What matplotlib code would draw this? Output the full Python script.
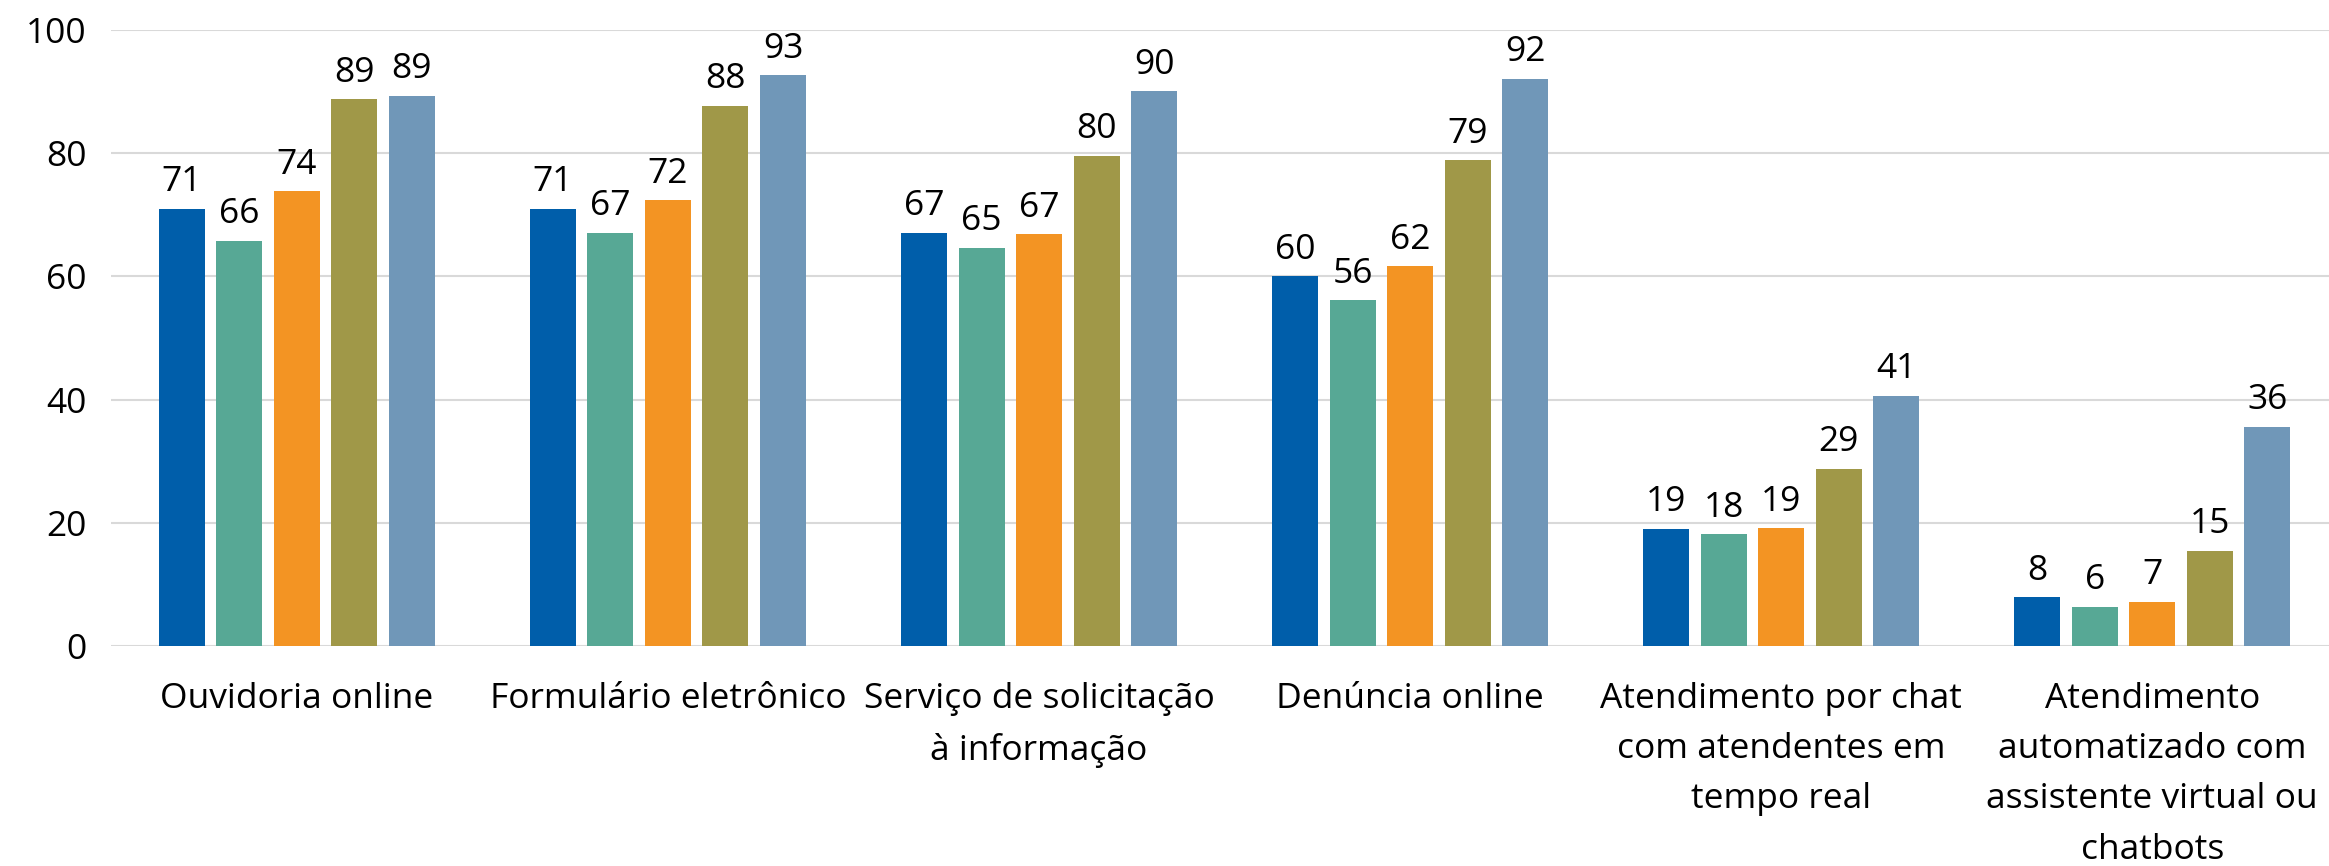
import matplotlib.pyplot as plt
import numpy as np

# Categories and series values (percent)
categories = [
    "Ouvidoria online",
    "Formulário eletrônico",
    "Serviço de solicitação\nà informação",
    "Denúncia online",
    "Atendimento por chat\ncom atendentes em\ntempo real",
    "Atendimento\nautomatizado com\nassistente virtual ou\nchatbots",
]
serie_1 = [71.0, 71.0, 67.0, 60.0, 19.0, 7.9]
serie_2 = [65.8, 67.0, 64.6, 56.1, 18.1, 6.3]
serie_3 = [73.8, 72.3, 66.8, 61.6, 19.1, 7.2]
serie_4 = [88.7, 87.6, 79.5, 78.8, 28.7, 15.4]
serie_5 = [89.3, 92.6, 90.0, 92.0, 40.6, 35.6]
y_ticks = [0, 20, 40, 60, 80, 100]

series = [serie_1, serie_2, serie_3, serie_4, serie_5]
colors = ["#005EAA", "#57A895", "#F39423", "#A09848", "#7097B8"]

plt.rcParams["font.family"] = ["Open Sans", "DejaVu Sans"]
fs = 25.5

fig = plt.figure(figsize=(23.29, 8.66), dpi=100)
ax = fig.add_axes([0.0478, 0.254, 0.956, 0.7116])

x = np.arange(len(categories))
step = 0.155
width = 0.124
for i, (vals, c) in enumerate(zip(series, colors)):
    pos = x + (i - 2) * step
    bars = ax.bar(pos, vals, width=width, color=c, zorder=3)
    for b, v in zip(bars, vals):
        ax.annotate(f"{round(v):d}", (b.get_x() + b.get_width() / 2, v),
                    xytext=(0, 7), textcoords="offset points",
                    ha="center", va="bottom", fontsize=fs)

ax.set_xlim(-0.5, len(categories) - 0.5)
ax.set_ylim(0, 100)
ax.set_yticks(y_ticks)
ax.tick_params(axis="y", labelsize=fs, length=0, pad=18)
ax.set_xticks(x)
ax.set_xticklabels(categories, fontsize=fs, linespacing=1.62)
ax.tick_params(axis="x", length=0, pad=26)
ax.grid(axis="y", color="#D9D9D9", linewidth=1.5, zorder=0)
for s in ax.spines.values():
    s.set_visible(False)

fig.savefig("out.png", dpi=100)
